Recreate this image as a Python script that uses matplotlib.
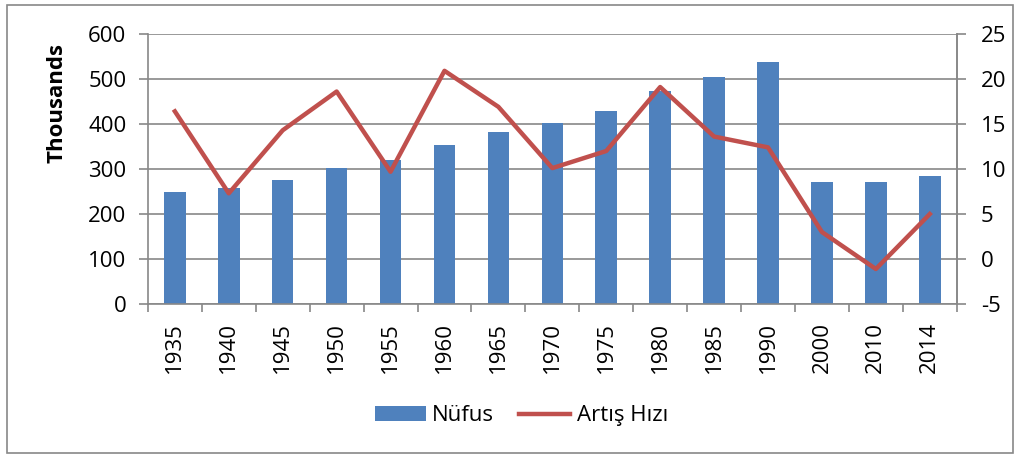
import matplotlib.pyplot as plt
import numpy as np
from matplotlib.patches import Rectangle

years = ['1935', '1940', '1945', '1950', '1955', '1960', '1965', '1970',
         '1975', '1980', '1985', '1990', '2000', '2010', '2014']
nufus = [249, 257, 276, 302, 320, 353, 383, 403, 428, 473, 504, 538, 271, 271, 285]
artis = [16.4, 7.3, 14.3, 18.6, 9.7, 20.9, 16.9, 10.1, 12.0, 19.1, 13.6, 12.4, 3.0, -1.1, 5.0]

plt.rcParams['font.family'] = ['Open Sans', 'DejaVu Sans']
plt.rcParams['axes.unicode_minus'] = False

fig = plt.figure(figsize=(10.2, 4.58), dpi=100)
fig.patches.append(Rectangle((0.007, 0.011), 0.986, 0.978, transform=fig.transFigure,
                             fill=False, edgecolor='#888888', linewidth=1.2))
ax = fig.add_axes([0.145, 0.336, 0.793, 0.59])
x = np.arange(len(years))

ax.set_axisbelow(True)
ax.grid(axis='y', color='#888888', linewidth=1.2)
b = ax.bar(x, nufus, width=0.4, color='#4F81BD', label='Nüfus')
ax.set_ylim(0, 600)
ax.set_yticks(range(0, 601, 100))
ax.set_xlim(-0.5, len(years) - 0.5)
ax.set_xticks(x)
ax.set_xticklabels(years, rotation=90, fontsize=16)
ax.set_xticks(np.arange(-0.5, len(years), 1), minor=True)
ax.tick_params(axis='x', which='major', length=0, pad=13)
ax.tick_params(axis='x', which='minor', length=6, color='#888888', width=1.2)
ax.tick_params(axis='y', labelsize=16, length=6.5, color='#888888', width=1.2, pad=9)
ax.set_ylabel('Thousands', fontsize=16, fontweight='bold')
ax.yaxis.set_label_coords(-0.100, 0.746)

ax.spines['top'].set_visible(False)
for s in ['left', 'bottom', 'right']:
    ax.spines[s].set_color('#888888')
    ax.spines[s].set_linewidth(1.2)

ax2 = ax.twinx()
l, = ax2.plot(x, artis, color='#C0504D', linewidth=3.2, label='Artış Hızı')
ax2.set_ylim(-5, 25)
ax2.set_yticks(range(-5, 26, 5))
ax2.tick_params(axis='y', labelsize=16, length=6.5, color='#888888', width=1.2, pad=11)
for s in ['top', 'left', 'bottom']:
    ax2.spines[s].set_visible(False)
ax2.spines['right'].set_color('#888888')
ax2.spines['right'].set_linewidth(1.2)

fig.legend([b, l], ['Nüfus', 'Artış Hızı'], loc='center', bbox_to_anchor=(0.511, 0.092),
           ncol=2, frameon=False, fontsize=16, handlelength=2.3, handletextpad=0.3,
           columnspacing=1.1)

fig.savefig('out.png', dpi=100)
